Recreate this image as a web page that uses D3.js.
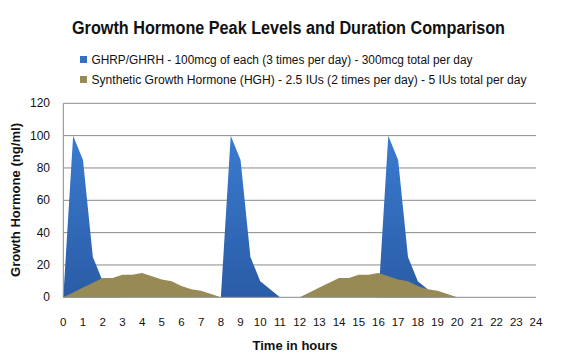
<!DOCTYPE html>
<html><head><meta charset="utf-8">
<script src="https://cdn.jsdelivr.net/npm/d3@7"></script>
<style>body{margin:0;background:#fff}svg{display:block}text{font-family:"Liberation Sans",Arial,sans-serif}</style>
</head><body><svg id="c" width="563" height="356"></svg>
<script>
const hours = d3.range(0, 24.5, 0.5);
const ghrp = [0,100,85,25,10,5,0,0,0,0,0,0,0,0,0,0,
              0,100,85,25,10,5,0,0,0,0,0,0,0,0,0,0,
              0,100,85,25,10,5,0,0,0,0,0,0,0,0,0,0,0];
const hgh  = [0,3,6,9,12,12,14,14,15,13,11,10,7,5,4,2,
              0,0,0,0,0,0,0,0,0,3,6,9,12,12,14,14,
              15,13,11,10,7,5,4,2,0,0,0,0,0,0,0,0,0];
const yTicks = [0,20,40,60,80,100,120];
const xTicks = d3.range(0,25,1);
const title = "Growth Hormone Peak Levels and Duration Comparison";
const seriesNames = ["GHRP/GHRH - 100mcg of each (3 times per day) - 300mcg total per day",
                     "Synthetic Growth  Hormone (HGH) - 2.5 IUs (2 times per day) - 5 IUs total per day"];
const colors = ["#3270c2","#978a55"];

const svg = d3.select("#c");
const L=63.3, R=536, T=103.3, B=297.3;
const x = d3.scaleLinear().domain([0,24]).range([L,R]);
const y = d3.scaleLinear().domain([0,120]).range([B,T]);

const defs = svg.append("defs");
const g = defs.append("linearGradient").attr("id","bg").attr("x1",0).attr("y1",0).attr("x2",0).attr("y2",1);
g.append("stop").attr("offset","0%").attr("stop-color","#3a7bd0");
g.append("stop").attr("offset","100%").attr("stop-color","#2a5ca6");

// gridlines
svg.append("g").selectAll("line").data(yTicks.filter(d=>d>0)).join("line")
  .attr("x1",L).attr("x2",R).attr("y1",d=>y(d)).attr("y2",d=>y(d))
  .attr("stroke","#8a8a8a").attr("stroke-width",1);

const area = d3.area().x((d,i)=>x(hours[i])).y0(y(0)).y1(d=>y(d));
svg.append("path").datum(ghrp).attr("d",area).attr("fill","url(#bg)");
svg.append("path").datum(hgh).attr("d",area).attr("fill",colors[1]);

// axes
svg.append("line").attr("x1",L).attr("x2",L).attr("y1",T).attr("y2",B).attr("stroke","#8a8a8a");
svg.append("line").attr("x1",L).attr("x2",R).attr("y1",B).attr("y2",B).attr("stroke","#8a8a8a");

svg.append("g").selectAll("text").data(yTicks).join("text")
  .attr("x",50).attr("y",d=>y(d)+4).attr("text-anchor","end")
  .attr("font-size",12).attr("fill","#111").text(d=>d);
svg.append("g").selectAll("text").data(xTicks).join("text")
  .attr("x",d=>x(d)).attr("y",326).attr("text-anchor","middle")
  .attr("font-size",11.5).attr("fill","#111").text(d=>d);

svg.append("text").attr("x",295).attr("y",350).attr("text-anchor","middle")
  .attr("font-size",13).attr("font-weight","bold").attr("fill","#111").text("Time in hours");
svg.append("text").attr("transform","translate(20,200) rotate(-90)").attr("text-anchor","middle")
  .attr("font-size",13).attr("font-weight","bold").attr("fill","#111")
  .attr("textLength",154).attr("lengthAdjust","spacingAndGlyphs").text("Growth Hormone  (ng/ml)");

svg.append("text").attr("x",72).attr("y",34).attr("font-size",18).attr("font-weight","bold")
  .attr("fill","#111").attr("textLength",433).attr("lengthAdjust","spacingAndGlyphs").text(title);

const lw=[381,435], ly=[59.5,79.5];
seriesNames.forEach((s,i)=>{
  svg.append("rect").attr("x",80).attr("y",ly[i]-3.5).attr("width",7).attr("height",7).attr("fill",colors[i]);
  svg.append("text").attr("x",91.5).attr("y",ly[i]+4.5).attr("font-size",12.5).attr("fill","#111")
    .attr("textLength",lw[i]).attr("lengthAdjust","spacingAndGlyphs").text(s);
});
</script></body></html>
